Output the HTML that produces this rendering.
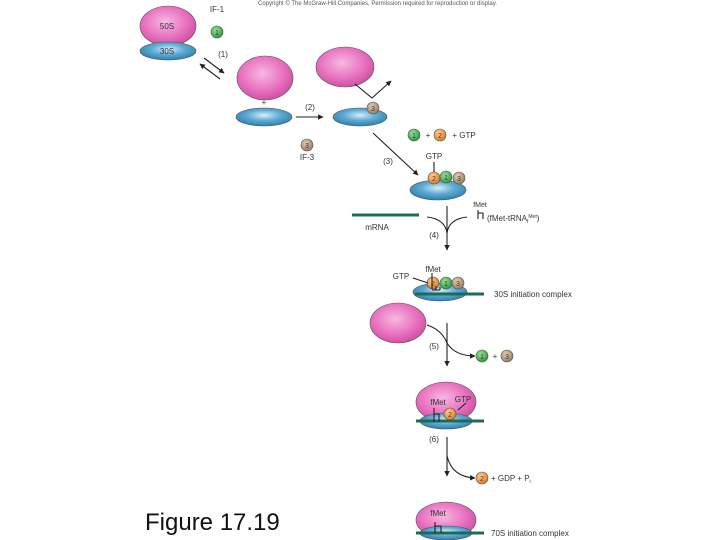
<!DOCTYPE html>
<html><head><meta charset="utf-8"><style>
html,body{margin:0;padding:0;background:#fff;}
svg{display:block;}
text{font-family:"Liberation Sans",sans-serif;}
</style></head><body>
<svg width="720" height="540" viewBox="0 0 720 540" xmlns="http://www.w3.org/2000/svg">
<defs>
<radialGradient id="pk" cx="45%" cy="40%" r="65%"><stop offset="0" stop-color="#f7b8e0"/><stop offset="0.6" stop-color="#e870bf"/><stop offset="1" stop-color="#c94a9c"/></radialGradient>
<radialGradient id="bl" cx="50%" cy="40%" r="60%"><stop offset="0" stop-color="#d8eef8"/><stop offset="0.5" stop-color="#5eabd3"/><stop offset="1" stop-color="#2f7eb0"/></radialGradient>
<radialGradient id="g" cx="40%" cy="35%" r="65%"><stop offset="0" stop-color="#9be29a"/><stop offset="1" stop-color="#2e9a3c"/></radialGradient>
<radialGradient id="o" cx="40%" cy="35%" r="65%"><stop offset="0" stop-color="#ffd199"/><stop offset="1" stop-color="#e07a1c"/></radialGradient>
<radialGradient id="t" cx="40%" cy="35%" r="65%"><stop offset="0" stop-color="#e4cfb8"/><stop offset="1" stop-color="#9a7a60"/></radialGradient>
<marker id="ah" viewBox="0 0 10 10" refX="9" refY="5" markerWidth="5" markerHeight="5" orient="auto"><path d="M0,0 L10,5 L0,10 z" fill="#222"/></marker>
</defs>
<g font-size="7" fill="#333">
<text x="258" y="5" font-size="6" fill="#555">Copyright © The McGraw-Hill Companies, Permission required for reproduction or display.</text>
</g>
<g stroke="#555" stroke-width="0.6">
<ellipse cx="168" cy="26" rx="28" ry="20" fill="url(#pk)"/>
<ellipse cx="168" cy="51" rx="28" ry="9" fill="url(#bl)"/>
<circle cx="217" cy="32" r="6" fill="url(#g)"/>
<ellipse cx="265" cy="78" rx="28" ry="22" fill="url(#pk)"/>
<ellipse cx="264" cy="117" rx="28" ry="9" fill="url(#bl)"/>
<ellipse cx="345" cy="67" rx="29" ry="20" fill="url(#pk)"/>
<ellipse cx="360" cy="117" rx="27" ry="9" fill="url(#bl)"/>
<circle cx="373" cy="108" r="6" fill="url(#t)"/>
<circle cx="307" cy="145" r="6" fill="url(#t)"/>
<circle cx="414" cy="135" r="6" fill="url(#g)"/>
<circle cx="440" cy="135" r="6" fill="url(#o)"/>
<ellipse cx="438" cy="190" rx="28" ry="10" fill="url(#bl)"/>
<circle cx="434" cy="178" r="6" fill="url(#o)"/>
<circle cx="446" cy="177" r="6" fill="url(#g)"/>
<circle cx="459" cy="178" r="6" fill="url(#t)"/>
<ellipse cx="440" cy="292" rx="27" ry="9" fill="url(#bl)"/>
<circle cx="433" cy="283" r="6" fill="url(#o)"/>
<circle cx="446" cy="283" r="6" fill="url(#g)"/>
<circle cx="458" cy="283" r="6" fill="url(#t)"/>
<ellipse cx="398" cy="323" rx="28" ry="20" fill="url(#pk)"/>
<circle cx="482" cy="356" r="6" fill="url(#g)"/>
<circle cx="507" cy="356" r="6" fill="url(#t)"/>
<ellipse cx="446" cy="402" rx="30" ry="20" fill="url(#pk)"/>
<ellipse cx="446" cy="421" rx="26" ry="8" fill="url(#bl)"/>
<circle cx="450" cy="414" r="6" fill="url(#o)"/>
<circle cx="482" cy="478" r="6" fill="url(#o)"/>
<ellipse cx="446" cy="520" rx="30" ry="18" fill="url(#pk)"/>
<ellipse cx="446" cy="533" rx="26" ry="7" fill="url(#bl)"/>
</g>
<g stroke="#1d6b55" stroke-width="3">
<line x1="352" y1="215" x2="419" y2="215"/>
<line x1="415" y1="294" x2="484" y2="294"/>
<line x1="416" y1="421" x2="484" y2="421"/>
<line x1="416" y1="533" x2="484" y2="533"/>
</g>
<g stroke="#222" stroke-width="1.1" fill="none">
<line x1="204" y1="58" x2="224" y2="73" marker-end="url(#ah)"/>
<line x1="220" y1="79" x2="200" y2="64" marker-end="url(#ah)"/>
<line x1="296" y1="117" x2="323" y2="117" marker-end="url(#ah)"/>
<polyline points="355,84 372,98 391,81" marker-end="url(#ah)"/>
<line x1="373" y1="133" x2="418" y2="175" marker-end="url(#ah)"/>
<line x1="447" y1="206" x2="447" y2="250" marker-end="url(#ah)"/>
<path d="M427,217 Q445,219 447,233 Q449,219 467,217"/>
<line x1="447" y1="323" x2="447" y2="366" marker-end="url(#ah)"/>
<path d="M427,325 Q442,330 447,343 Q455,356 475,356" marker-end="url(#ah)"/>
<line x1="447" y1="437" x2="447" y2="476" marker-end="url(#ah)"/>
<path d="M447,456 Q452,477 475,478" marker-end="url(#ah)"/>
<line x1="434" y1="162" x2="434" y2="172"/>
<path d="M478,215 v-5 M478,213 h5 v6 M478,213 v6"/>
<path d="M413,278 L428,283 M432,273 v16 M432,290 h8 M440,290 v-3 M436,290 v-4"/>
<path d="M434,408 v14 M434,414 h5 v8 M466,403 L458,410"/>
<path d="M435,522 v11 M435,526 h6 v7"/>
</g>
<g font-size="8" fill="#333" text-anchor="middle">
<text x="167" y="29">50S</text>
<text x="167" y="54">30S</text>
<text x="217" y="12">IF-1</text>
<text x="217" y="35" font-size="7">1</text>
<text x="223" y="57">(1)</text>
<text x="264" y="105">+</text>
<text x="310" y="110">(2)</text>
<text x="373" y="111" font-size="7">3</text>
<text x="307" y="148" font-size="7">3</text>
<text x="307" y="160">IF-3</text>
<text x="414" y="138" font-size="7">1</text>
<text x="428" y="138">+</text>
<text x="440" y="138" font-size="7">2</text>
<text x="464" y="138">+ GTP</text>
<text x="434" y="159">GTP</text>
<text x="388" y="164">(3)</text>
<text x="434" y="181" font-size="7">2</text>
<text x="446" y="180" font-size="7">1</text>
<text x="459" y="181" font-size="7">3</text>
<text x="480" y="207" font-size="7">fMet</text>
<text x="377" y="230">mRNA</text>
<text x="434" y="238">(4)</text>
<text x="433" y="286" font-size="7">2</text>
<text x="446" y="286" font-size="7">1</text>
<text x="458" y="286" font-size="7">3</text>
<text x="401" y="279">GTP</text>
<text x="433" y="272">fMet</text>
<text x="434" y="349">(5)</text>
<text x="495" y="359">+</text>
<text x="482" y="359" font-size="7">1</text>
<text x="507" y="359" font-size="7">3</text>
<text x="438" y="405">fMet</text>
<text x="463" y="402">GTP</text>
<text x="450" y="417" font-size="7">2</text>
<text x="434" y="442">(6)</text>
<text x="482" y="481" font-size="7">2</text>
<text x="438" y="516">fMet</text>
</g>
<g font-size="8" fill="#333">
<text x="487" y="221">(fMet-tRNA<tspan font-size="5" dy="2">f</tspan><tspan font-size="5" dy="-5">Met</tspan><tspan dy="3">)</tspan></text>
<text x="494" y="297">30S initiation complex</text>
<text x="491" y="481">+ GDP + P<tspan font-size="5" dy="2">i</tspan></text>
<text x="491" y="536">70S initiation complex</text>
</g>
<text x="145" y="530" font-size="24" fill="#111">Figure 17.19</text>
</svg>
</body></html>
